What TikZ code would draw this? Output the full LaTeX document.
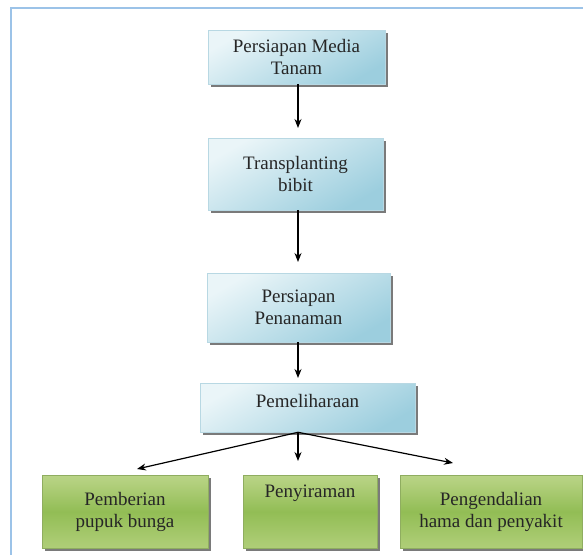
\documentclass[tikz,border=0pt]{standalone}
\usepackage{fontspec}
\setmainfont{Liberation Serif}
\usetikzlibrary{shadows,arrows.meta}
\definecolor{txt}{HTML}{262626}
\definecolor{frameblue}{HTML}{9CC3E8}
\definecolor{bluelight}{HTML}{EAF5F8}
\definecolor{bluedark}{HTML}{9CCEDE}
\definecolor{blueedge}{HTML}{B8D8E3}
\definecolor{greenedge}{HTML}{8FAD60}
\definecolor{gA}{HTML}{C4D992}
\definecolor{gB}{HTML}{AACB72}
\definecolor{gC}{HTML}{92BD55}
\definecolor{gD}{HTML}{B3D07E}
\definecolor{gE}{HTML}{D4E4AE}
\pgfdeclareverticalshading{greenv}{100bp}{%
  color(0bp)=(gA); color(30bp)=(gB); color(50bp)=(gC);
  color(70bp)=(gD); color(100bp)=(gE)}
\begin{document}
\begin{tikzpicture}[x=1pt,y=-1pt,
  boxbase/.style={align=center, inner sep=0pt, text=txt,
    font=\fontsize{19}{22}\selectfont,
    drop shadow={shadow xshift=2.5pt, shadow yshift=-2.5pt, fill=black!65, opacity=0.8}},
  bluebox/.style={boxbase, draw=blueedge, line width=0.6pt,
    top color=bluelight, bottom color=bluedark, shading angle=30},
  greenbox/.style={boxbase, draw=greenedge, line width=0.6pt, shading=greenv},
  arr/.style={-{Stealth[length=9pt,width=7pt]}, line width=1.2pt, black}]
\useasboundingbox (0,0) rectangle (583,554);
\draw[frameblue, line width=2pt] (11,8) rectangle (600,570);

\node[bluebox, minimum width=177pt, minimum height=54pt] (b1) at (296.5,57) {Persiapan Media\\Tanam};
\node[bluebox, minimum width=175pt, minimum height=72pt] (b2) at (295.5,174) {Transplanting\\bibit};
\node[bluebox, minimum width=183pt, minimum height=69pt] (b3) at (298.5,307.5) {Persiapan\\Penanaman};
\node[bluebox, minimum width=215pt, text height=24pt, text depth=25pt] (b4) at (307.5,407.5) {Pemeliharaan};

\node[greenbox, minimum width=166pt, minimum height=73pt] (g1) at (125,511.5) {Pemberian\\pupuk bunga};
\node[greenbox, minimum width=134pt, text height=22pt, text depth=51pt] (g2) at (310,511.5) {Penyiraman};
\node[greenbox, minimum width=182pt, minimum height=73pt] (g3) at (491,511.5) {Pengendalian\\hama dan penyakit};

\coordinate (xa) at (298,0);
\coordinate (e1) at (298,128);
\coordinate (e2) at (298,262);
\coordinate (e3) at (298,378);
\coordinate (e4) at (137,469);
\coordinate (e5) at (298,461);
\coordinate (e6) at (453,463);

\draw[arr] (b1.south -| xa) -- (e1);
\draw[arr] (b2.south -| xa) -- (e2);
\draw[arr] (b3.south -| xa) -- (e3);
\draw[arr] (b4.south -| xa) -- (e4);
\draw[arr] (b4.south -| xa) -- (e5);
\draw[arr] (b4.south -| xa) -- (e6);
\end{tikzpicture}
\end{document}
